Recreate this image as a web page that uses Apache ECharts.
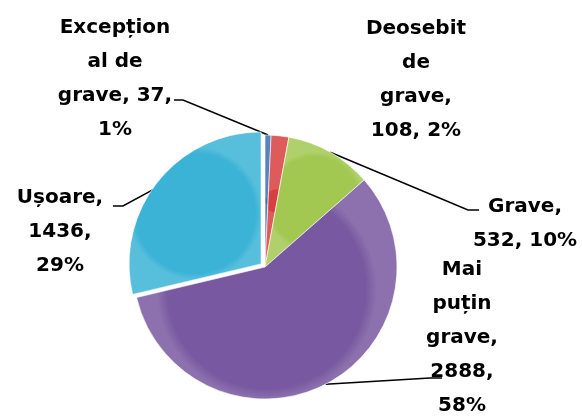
<!DOCTYPE html>
<html>
<head>
<meta charset="utf-8">
<script src="https://cdn.jsdelivr.net/npm/echarts@6/dist/echarts.min.js"></script>
<style>
    html, body { margin: 0; padding: 0; background: #fff; }
    #chart { width: 582px; height: 419px; }
</style>
</head>
<body>
<div id="chart"></div>
<script>
    // date din grafic
    var categorii = ['Excepțional de grave', 'Deosebit de grave', 'Grave', 'Mai puțin grave', 'Ușoare'];
    var valori = [37, 108, 532, 2888, 1436];
    var procente = ['1%', '2%', '10%', '58%', '29%'];
    // textul etichetelor, rupt pe rânduri ca în original
    var etichete = [
        'Excepțion\nal de\ngrave, 37,\n1%',
        'Deosebit\nde\ngrave,\n108, 2%',
        'Grave,\n532, 10%',
        'Mai\npuțin\ngrave,\n2888,\n58%',
        'Ușoare,\n1436,\n29%'
    ];
    var culori = ['#3a6fb5', '#d8403f', '#a2c851', '#7858a0', '#3ab3d6'];

    // unde stau etichetele (centrul blocului de text)
    var pozEtichete = [[115, 79], [416, 80], [525, 224], [462, 338], [60, 232]];
    // cotul si capatul liniei de legatura
    var capLinii = [
        [[183, 100], [174, 100]],
        null,
        [[468, 210], [479, 210]],
        [[430, 378], [442, 378]],
        [[123, 206], [113, 206]]
    ];

    var chart = echarts.init(document.getElementById('chart'));

    var felii = categorii.map(function (c, i) {
        var d = {
            name: c,
            value: valori[i],
            itemStyle: {
                color: new echarts.graphic.RadialGradient(0.5, 0.5, 0.5, [
                    { offset: 0, color: culori[i] },
                    { offset: 0.9, color: culori[i] },
                    { offset: 1, color: echarts.color.lift(culori[i], 0.15) }
                ], false)
            }
        };
        if (i === 4) d.selected = true;
        return d;
    });

    // a doua serie, transparenta, doar pentru etichete
    var texte = categorii.map(function (c, i) {
        var d = { name: c, value: valori[i] };
        if (i === 1) d.labelLine = { show: false };
        return d;
    });

    chart.setOption({
        animation: false,
        series: [{
            type: 'pie',
            center: [265, 267],
            radius: 132,
            startAngle: 90,
            clockwise: true,
            selectedMode: 'single',
            selectedOffset: 5,
            silent: true,
            itemStyle: {
                borderColor: 'rgba(255,255,255,0.6)',
                borderWidth: 1
            },
            label: { show: false },
            labelLine: { show: false },
            data: felii
        }, {
            type: 'pie',
            center: [265, 267],
            radius: 132,
            startAngle: 90,
            clockwise: true,
            silent: true,
            itemStyle: { color: 'rgba(0,0,0,0)' },
            emphasis: { disabled: true },
            label: {
                show: true,
                formatter: function (p) { return etichete[p.dataIndex]; },
                fontFamily: 'DejaVu Sans',
                fontWeight: 'bold',
                fontSize: 20,
                lineHeight: 34,
                color: '#000',
                align: 'center'
            },
            labelLine: {
                show: true,
                length: 10,
                length2: 8,
                lineStyle: { color: '#000', width: 1.5 }
            },
            labelLayout: function (p) {
                var pos = pozEtichete[p.dataIndex];
                var out = {
                    x: pos[0],
                    y: pos[1],
                    align: 'center',
                    verticalAlign: 'middle'
                };
                var cap = capLinii[p.dataIndex];
                if (cap && p.labelLinePoints) {
                    out.labelLinePoints = [p.labelLinePoints[0], cap[0], cap[1]];
                }
                return out;
            },
            data: texte
        }]
    });
</script>
</body>
</html>
